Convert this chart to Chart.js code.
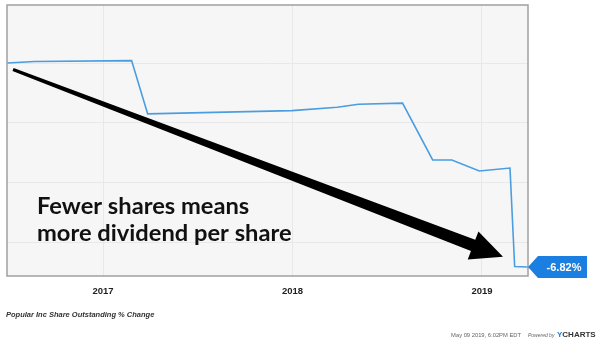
<!DOCTYPE html>
<html>
<head>
<meta charset="utf-8">
<script src="https://cdn.jsdelivr.net/npm/chart.js@4/dist/chart.umd.min.js"></script>
<style>
  html, body { margin: 0; padding: 0; background: #fff; }
  #wrap { width: 600px; height: 347px; position: relative; }
</style>
</head>
<body>
<div id="wrap"><canvas id="canvas"></canvas></div>
<script>
// share count change, % since mid-2016
const dates = ['2016-06-30', '2016-08-22', '2017-02-25', '2017-03-28', '2017-12-31',
  '2018-03-28', '2018-05-08', '2018-08-01', '2018-09-28', '2018-11-04',
  '2018-12-27', '2019-02-24', '2019-03-05', '2019-03-31'];
const values = [0.0, 0.05, 0.08, -1.70, -1.59, -1.48, -1.38, -1.34, -3.24, -3.24,
  -3.61, -3.51, -6.80, -6.82];
const yearTicks = [2017, 2018, 2019];
const yTicks = [-6, -4, -2, 0];
const lastLabel = '-6.82%';
const chartTitle = 'Popular Inc Share Outstanding % Change';
const stamp = 'May 09 2019, 6:02PM EDT';
const noteLines = ['Fewer shares means', 'more dividend per share'];
// arrow ends, in data units (year, %)
const arrowFrom = [2016.525, -0.22];
const arrowTo = [2019.111, -6.48];

function toYear(d) {
  const t = new Date(d + 'T00:00:00Z');
  const y = t.getUTCFullYear();
  const start = Date.UTC(y, 0, 1);
  const end = Date.UTC(y + 1, 0, 1);
  return y + (t - start) / (end - start);
}

const points = dates.map((d, i) => ({ x: toYear(d), y: values[i] }));

const extras = {
  id: 'extras',
  beforeDraw(chart) {
    const { ctx, chartArea: a } = chart;
    ctx.save();
    ctx.fillStyle = '#f6f6f6';
    ctx.fillRect(a.left, a.top, a.right - a.left, a.bottom - a.top);
    ctx.restore();
  },
  afterDraw(chart) {
    const { ctx, chartArea: a } = chart;
    const xs = chart.scales.x, ys = chart.scales.y;
    ctx.save();

    // frame
    ctx.strokeStyle = '#a0a0a0';
    ctx.lineWidth = 1.5;
    ctx.strokeRect(a.left, a.top, a.right - a.left, a.bottom - a.top);

    // arrow
    const x0 = xs.getPixelForValue(arrowFrom[0]), y0 = ys.getPixelForValue(arrowFrom[1]);
    const x1 = xs.getPixelForValue(arrowTo[0]), y1 = ys.getPixelForValue(arrowTo[1]);
    const len = Math.hypot(x1 - x0, y1 - y0);
    const ux = (x1 - x0) / len, uy = (y1 - y0) / len;
    const nx = -uy, ny = ux;
    const headLen = 32, headW = 15, w0 = 1.6, w1 = 6;
    const bx = x1 - ux * headLen, by = y1 - uy * headLen;
    ctx.fillStyle = '#000';
    ctx.beginPath();
    ctx.moveTo(x0 + nx * w0, y0 + ny * w0);
    ctx.lineTo(bx + nx * w1, by + ny * w1);
    ctx.lineTo(bx + nx * headW, by + ny * headW);
    ctx.lineTo(x1, y1);
    ctx.lineTo(bx - nx * headW, by - ny * headW);
    ctx.lineTo(bx - nx * w1, by - ny * w1);
    ctx.lineTo(x0 - nx * w0, y0 - ny * w0);
    ctx.closePath();
    ctx.fill();

    // note text
    ctx.fillStyle = '#111';
    ctx.textBaseline = 'alphabetic';
    ctx.font = 'bold 24px Lato';
    const fit = 255 / ctx.measureText(noteLines[1]).width;
    ctx.font = 'bold ' + (24 * fit).toFixed(1) + 'px Lato';
    ctx.fillText(noteLines[0], a.left + 30, 214);
    ctx.fillText(noteLines[1], a.left + 30, 241);

    // last value tag
    const last = points[points.length - 1];
    const ty = ys.getPixelForValue(last.y);
    const tx = a.right;
    ctx.fillStyle = '#1a7fe0';
    ctx.beginPath();
    ctx.moveTo(tx, ty);
    ctx.lineTo(tx + 10, ty - 11);
    ctx.lineTo(tx + 59, ty - 11);
    ctx.lineTo(tx + 59, ty + 11);
    ctx.lineTo(tx + 10, ty + 11);
    ctx.closePath();
    ctx.fill();
    ctx.fillStyle = '#fff';
    ctx.font = 'bold 11px "Liberation Sans"';
    ctx.textAlign = 'center';
    ctx.textBaseline = 'middle';
    ctx.fillText(lastLabel, tx + 36, ty + 0.5);

    // footer
    ctx.textAlign = 'left';
    ctx.textBaseline = 'alphabetic';
    ctx.fillStyle = '#333';
    ctx.font = 'italic bold 7.5px "Liberation Sans"';
    ctx.fillText(chartTitle, 6, 317);
    ctx.fillStyle = '#666';
    ctx.font = '5.8px "Liberation Sans"';
    ctx.textAlign = 'right';
    ctx.fillText(stamp, 521, 337);
    ctx.textAlign = 'left';
    ctx.font = 'italic 5px "Liberation Sans"';
    ctx.fillText('Powered by', 528, 337);
    ctx.font = 'bold 8px "Liberation Sans"';
    ctx.fillStyle = '#1a7fe0';
    ctx.fillText('Y', 557, 337);
    const yw = ctx.measureText('Y').width;
    ctx.fillStyle = '#333';
    ctx.fillText('CHARTS', 557 + yw, 337);
    ctx.restore();
  }
};

const config = {
  type: 'line',
  data: {
    datasets: [{
      data: points,
      borderColor: '#4a9de0',
      borderWidth: 1.6,
      pointRadius: 0,
      tension: 0,
      fill: false,
    }],
  },
  options: {
    responsive: true,
    maintainAspectRatio: false,
    animation: false,
    layout: { padding: { left: 7, right: 72, top: 5, bottom: 0 } },
    plugins: { legend: { display: false }, tooltip: { enabled: false } },
    scales: {
      x: {
        type: 'linear',
        min: 2016.493,
        max: 2019.243,
        afterBuildTicks: s => { s.ticks = yearTicks.map(v => ({ value: v })); },
        afterFit: s => { s.height = 71; },
        ticks: {
          padding: 10,
          color: '#222',
          font: { family: '"Liberation Sans"', size: 9.5, weight: 'bold' },
          callback: v => String(v),
          maxRotation: 0,
        },
        grid: { color: '#e8e8e8', drawTicks: false },
        border: { display: false },
      },
      y: {
        min: -7.12,
        max: 1.94,
        afterBuildTicks: s => { s.ticks = yTicks.map(v => ({ value: v })); },
        afterFit: s => { s.width = 0; },
        ticks: { display: false },
        grid: { color: '#e8e8e8', drawTicks: false },
        border: { display: false },
      },
    },
  },
  plugins: [extras],
};

const canvas = document.getElementById('canvas');
const chart = new Chart(canvas, config);
</script>
</body>
</html>
